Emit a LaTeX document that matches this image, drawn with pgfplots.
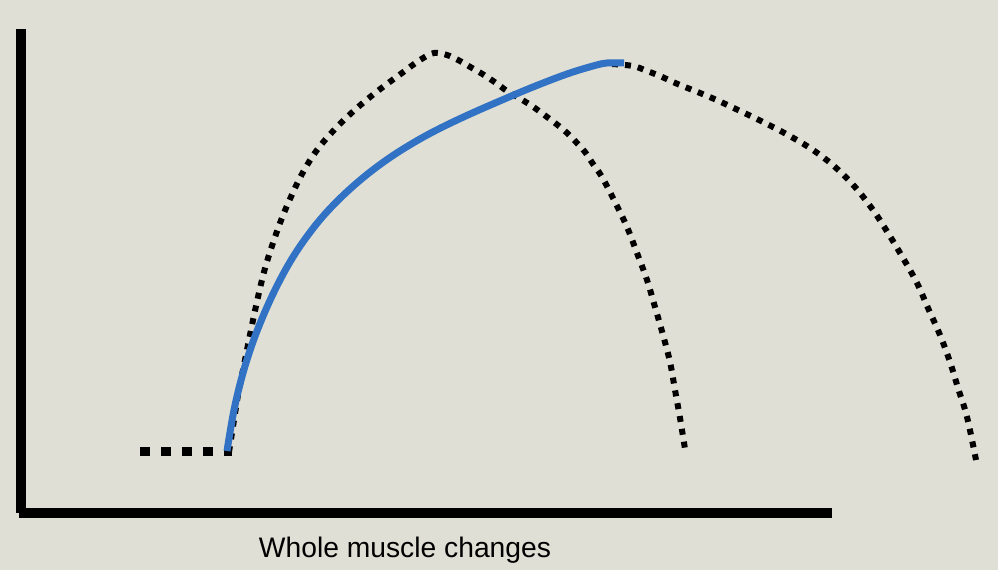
\documentclass[border=0pt]{standalone}
\usepackage{pgfplots}
\pgfplotsset{compat=1.18}
\usepackage{fontspec}
\setmainfont{Liberation Sans}
\definecolor{bg}{RGB}{224,223,213}
\definecolor{blueline}{RGB}{49,114,196}
\begin{document}
\begin{tikzpicture}
\begin{axis}[
  scale only axis, width=399.2pt, height=228pt,
  xmin=0, xmax=998, ymin=0, ymax=570, y dir=reverse,
  hide axis, clip=false,
]
\fill[bg] (axis cs:0,0) rectangle (axis cs:998,570);
% axes
\addplot[black, line width=4pt, line cap=butt] coordinates {(21,29) (21,513)};
\addplot[black, line width=4pt, line cap=butt] coordinates {(19,513) (832,513)};
% thick dashed baseline
\addplot[black, line width=3.8pt, line cap=butt, dash pattern=on 3.8pt off 4.6pt] coordinates {(140,451.5) (232,451.5)};
% dotted curve 1
\addplot[black, line width=2.4pt, line cap=butt, dash pattern=on 2.4pt off 2.8pt, smooth, tension=0.6] coordinates {
(229,452) (234,420) (238,395) (242,375) (247,350) (252,325) (258,297) (264,272)
(270,252) (280,223) (290,199) (302,174) (317,150) (336,128) (357,108) (379,90)
(402,73) (420,60) (434,53) (447,55) (460,61) (472,68) (484,75) (496,83) (507,91)
(519,98) (532,106) (543,114) (555,123) (566,132) (576,142) (585,152) (593,164)
(602,177) (615,202) (627,227) (637,253) (647,280) (655,307) (663,335) (670,362)
(675,390) (680,418) (685,449)};
% dotted curve 2 (continuation)
\addplot[black, line width=2.4pt, line cap=butt, dash pattern=on 2.4pt off 2.8pt, smooth, tension=0.6] coordinates {
(612,64) (633,66) (647,71) (660,76) (673,82) (685,87) (712,98) (738,110) (763,122)
(788,135) (813,150) (835,167) (855,187) (873,210) (888,233) (903,258) (917,283)
(928,308) (940,335) (950,362) (958,388) (967,417) (976,460)};
% blue curve
\addplot[blueline, line width=2.8pt, line cap=butt, smooth, tension=0.6] coordinates {
(227,451) (234,410) (243,373) (254,339) (267,307) (280,280) (293,257) (308,235)
(325,214) (345,193.6) (367,174.5) (390,157.5) (413,143) (437,129.8) (467,115.4)
(500,100.9) (533,87) (567,74) (593,66) (607,63) (624,63)};
\node[font=\fontsize{11.3pt}{13pt}\selectfont, anchor=base] at (axis cs:405,557) {Whole muscle changes};
\end{axis}
\end{tikzpicture}
\end{document}
